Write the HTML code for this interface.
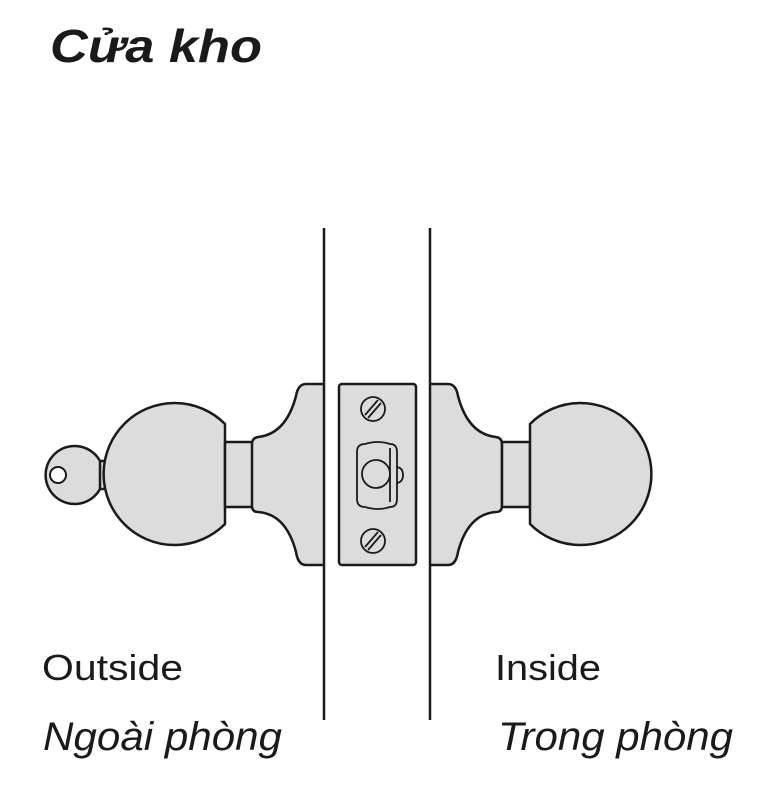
<!DOCTYPE html>
<html><head><meta charset="utf-8"><style>
body{margin:0;background:#fff;}
svg{display:block}
text{font-family:"Liberation Sans",sans-serif;fill:#1a1a1a}
</style></head><body>
<svg width="763" height="790" viewBox="0 0 763 790">
<text x="50" y="62" font-size="46" font-weight="bold" font-style="italic" textLength="212" lengthAdjust="spacingAndGlyphs">Cửa kho</text>
<g stroke="#1a1a1a" stroke-width="2.5" fill="#dcdcdc" stroke-linejoin="round">
<!-- key -->
<path d="M100,461 L107,461 L107,489 L100,489"/>
<path d="M100,461 A29,29 0 1 0 100,489 Z"/>
<circle cx="58" cy="475" r="8" fill="#fff" stroke-width="2"/>
<!-- left knob -->
<path d="M225,424 A71,71 0 1 0 225,524 Z"/>
<rect x="225" y="442" width="28" height="65"/>
<path d="M324,384 L306,384 Q298,384 296,396 Q286,434 258,437 Q252,438 252,444 L252,506 Q252,512 258,512 Q286,514 296,552 Q298,565 306,565 L324,565"/>
<!-- right knob -->
<path d="M430,384 L448,384 Q456,384 458,396 Q468,434 496,437 Q502,438 502,444 L502,506 Q502,512 496,512 Q468,514 458,552 Q456,565 448,565 L430,565"/>
<rect x="502" y="442" width="28" height="65"/>
<path d="M530,424 A71,71 0 1 1 530,524 Z"/>
<!-- strike plate -->
<rect x="339" y="384" width="77" height="181" rx="3"/>
</g>
<g stroke="#1a1a1a" stroke-width="1.8" fill="none">
<circle cx="373" cy="409" r="12"/>
<line x1="365" y1="415" x2="378" y2="400"/><line x1="368" y1="418" x2="381" y2="403"/>
<circle cx="373" cy="541" r="12"/>
<line x1="365" y1="547" x2="378" y2="532"/><line x1="368" y1="550" x2="381" y2="535"/>
<path d="M357,452 Q357,444 365,444 Q378,440 390,444 Q397,444 397,452 L397,499 Q397,507 390,507 Q378,511 365,507 Q357,507 357,499 Z"/>
<circle cx="376" cy="474" r="14"/>
<line x1="390" y1="448" x2="390" y2="502"/>
<path d="M397,467 Q403,468 403,475 Q403,482 397,483"/>
</g>
<line x1="324" y1="228" x2="324" y2="720" stroke="#1a1a1a" stroke-width="2.5"/>
<line x1="430" y1="228" x2="430" y2="720" stroke="#1a1a1a" stroke-width="2.5"/>
<text x="42" y="680" font-size="36" textLength="141" lengthAdjust="spacingAndGlyphs">Outside</text>
<text x="43" y="750" font-size="40" font-style="italic" textLength="239" lengthAdjust="spacingAndGlyphs">Ngoài phòng</text>
<text x="495" y="680" font-size="36" textLength="106" lengthAdjust="spacingAndGlyphs">Inside</text>
<text x="498" y="750" font-size="40" font-style="italic" textLength="235" lengthAdjust="spacingAndGlyphs">Trong phòng</text>
</svg>
</body></html>
